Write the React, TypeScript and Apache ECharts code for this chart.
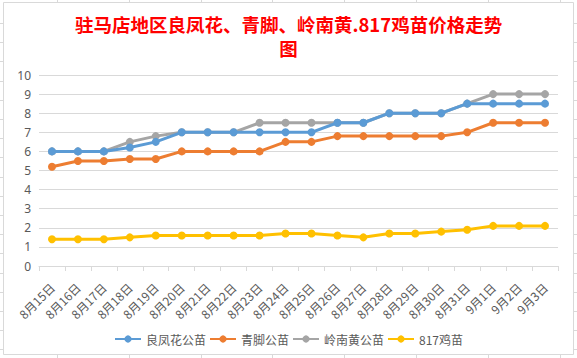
import React, { useEffect, useRef } from "react";
import * as echarts from "echarts";

const titleLine1 = "驻马店地区良凤花、青脚、岭南黄.817鸡苗价格走势";
const titleLine2 = "图";
const categories = [
  "8月15日", "8月16日", "8月17日", "8月18日", "8月19日", "8月20日", "8月21日",
  "8月22日", "8月23日", "8月24日", "8月25日", "8月26日", "8月27日", "8月28日",
  "8月29日", "8月30日", "8月31日", "9月1日", "9月2日", "9月3日",
];
const seriesNames = ["良凤花公苗", "青脚公苗", "岭南黄公苗", "817鸡苗"];
const liangfenghua = [6, 6, 6, 6.2, 6.5, 7, 7, 7, 7, 7, 7, 7.5, 7.5, 8, 8, 8, 8.5, 8.5, 8.5, 8.5];
const qingjiao = [5.2, 5.5, 5.5, 5.6, 5.6, 6, 6, 6, 6, 6.5, 6.5, 6.8, 6.8, 6.8, 6.8, 6.8, 7, 7.5, 7.5, 7.5];
const lingnanhuang = [6, 6, 6, 6.5, 6.8, 7, 7, 7, 7.5, 7.5, 7.5, 7.5, 7.5, 8, 8, 8, 8.5, 9, 9, 9];
const ji817 = [1.4, 1.4, 1.4, 1.5, 1.6, 1.6, 1.6, 1.6, 1.6, 1.7, 1.7, 1.6, 1.5, 1.7, 1.7, 1.8, 1.9, 2.1, 2.1, 2.1];
const colors = ["#5B9BD5", "#ED7D31", "#A5A5A5", "#FFC000"];

export default function App() {
  const ref = useRef<HTMLDivElement>(null);
  useEffect(() => {
    if (!ref.current) return;
    const chart = echarts.init(ref.current, null, { renderer: "svg" });
    const W = 577, H = 358;
    const gridColor = "#d9d9d9";
    const stubs: any[] = [];
    for (let y = 23; y < H; y += 19.2) {
      stubs.push({ type: "line", shape: { x1: 0, y1: Math.round(y) + 0.5, x2: 3, y2: Math.round(y) + 0.5 }, style: { stroke: gridColor, lineWidth: 1 }, silent: true });
      stubs.push({ type: "line", shape: { x1: 574, y1: Math.round(y) + 0.5, x2: W, y2: Math.round(y) + 0.5 }, style: { stroke: gridColor, lineWidth: 1 }, silent: true });
    }
    for (let x = 57; x < W; x += 71.8) {
      stubs.push({ type: "line", shape: { x1: Math.round(x) + 0.5, y1: 0, x2: Math.round(x) + 0.5, y2: 2 }, style: { stroke: gridColor, lineWidth: 1 }, silent: true });
      stubs.push({ type: "line", shape: { x1: Math.round(x) + 0.5, y1: 355, x2: Math.round(x) + 0.5, y2: H }, style: { stroke: gridColor, lineWidth: 1 }, silent: true });
    }
    const datas = [liangfenghua, qingjiao, lingnanhuang, ji817];
    const titleStyle = {
      color: "#ff0000",
      fontSize: 18.5,
      fontWeight: "bold",
      fontFamily: "'Noto Sans CJK SC', sans-serif",
    };
    chart.setOption({
      animation: false,
      backgroundColor: "#ffffff",
      color: colors,
      title: [
        { text: titleLine1, left: 288.5, top: 15, textAlign: "center", padding: 0, textStyle: titleStyle },
        { text: titleLine2, left: 288.5, top: 39, textAlign: "center", padding: 0, textStyle: titleStyle },
      ],
      graphic: [
        {
          type: "rect",
          shape: { x: 3.5, y: 2.5, width: 570, height: 352 },
          style: { fill: "none", stroke: gridColor, lineWidth: 1 },
          silent: true,
          z: -1,
        },
        ...stubs,
      ],
      legend: {
        bottom: 8,
        left: "center",
        itemWidth: 26,
        itemHeight: 9,
        itemGap: 3,
        textStyle: { color: "#595959", fontSize: 12, fontFamily: "'Noto Sans CJK SC', sans-serif" },
        data: seriesNames,
      },
      grid: { left: 39, right: 19, top: 75, bottom: 92, containLabel: false },
      xAxis: {
        type: "category",
        data: categories,
        boundaryGap: true,
        axisLine: { lineStyle: { color: gridColor } },
        axisTick: { show: true, length: 5, lineStyle: { color: gridColor }, alignWithLabel: false },
        axisLabel: {
          rotate: 45,
          color: "#595959",
          fontSize: 12,
          margin: 19,
          interval: 0,
          fontFamily: "'Noto Sans CJK SC', sans-serif",
        },
      },
      yAxis: {
        type: "value",
        min: 0,
        max: 10,
        interval: 1,
        axisLine: { show: false },
        axisTick: { show: false },
        splitLine: { lineStyle: { color: gridColor } },
        axisLabel: { color: "#595959", fontSize: 12, margin: 8, fontFamily: "'Noto Sans', sans-serif" },
      },
      series: seriesNames.map((name, i) => ({
        name,
        type: "line",
        data: datas[i],
        symbol: "circle",
        symbolSize: 8,
        lineStyle: { width: 3, color: colors[i] },
        itemStyle: { color: colors[i] },
        z: i === 0 ? 4 : 3,
      })),
    });
    return () => chart.dispose();
  }, []);
  return (
    <div
      ref={ref}
      style={{ position: "fixed", left: 0, top: 0, width: 577, height: 358 }}
    />
  );
}
